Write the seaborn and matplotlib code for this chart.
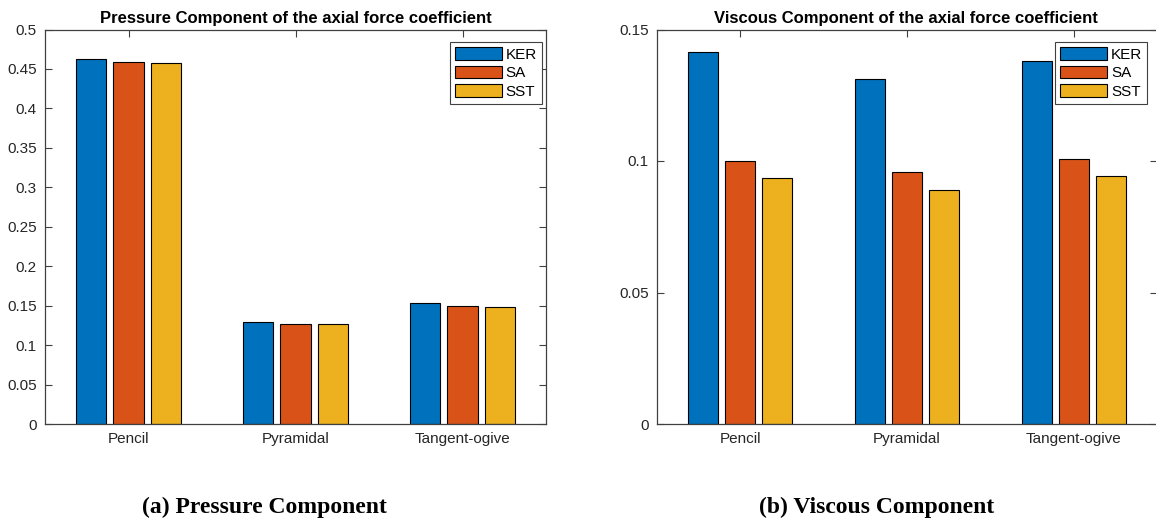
import numpy as np
import pandas as pd
import matplotlib
matplotlib.use("Agg")
import matplotlib.pyplot as plt
from matplotlib.patches import Patch
import seaborn as sns

# data
shapes = ["Pencil", "Pyramidal", "Tangent-ogive"]
models = ["KER", "SA", "SST"]
pressure_ker = [0.463, 0.1287, 0.1528]
pressure_sa = [0.459, 0.1266, 0.1490]
pressure_sst = [0.458, 0.1266, 0.1486]
viscous_ker = [0.1414, 0.1311, 0.1379]
viscous_sa = [0.1000, 0.0960, 0.1008]
viscous_sst = [0.0935, 0.0891, 0.0942]

pressure_ticks = [0, 0.05, 0.1, 0.15, 0.2, 0.25, 0.3, 0.35, 0.4, 0.45, 0.5]
pressure_ticklabels = ["0", "0.05", "0.1", "0.15", "0.2", "0.25", "0.3", "0.35", "0.4", "0.45", "0.5"]
viscous_ticks = [0, 0.05, 0.1, 0.15]
viscous_ticklabels = ["0", "0.05", "0.1", "0.15"]

titles = ["Pressure Component of the axial force coefficient",
          "Viscous Component of the axial force coefficient"]
captions = ["(a) Pressure Component", "(b) Viscous Component"]

colors = ["#0072BD", "#D95319", "#EDB120"]
axis_grey = "#404040"


def long_frame(ker, sa, sst):
    rows = []
    for model, vals in zip(models, [ker, sa, sst]):
        for shape, v in zip(shapes, vals):
            rows.append({"shape": shape, "model": model, "value": v})
    return pd.DataFrame(rows)


sns.set_style("ticks")
plt.rcParams["font.family"] = ["Liberation Sans", "DejaVu Sans"]

fig = plt.figure(figsize=(11.56, 5.23), dpi=100)
ax_p = fig.add_axes([45 / 1156, 99 / 523, 501 / 1156, 394.5 / 523])
ax_v = fig.add_axes([657 / 1156, 99 / 523, 500 / 1156, 394.5 / 523])

panels = [
    (ax_p, long_frame(pressure_ker, pressure_sa, pressure_sst), pressure_ticks,
     pressure_ticklabels, 0.5, 0.992, 0.5),
    (ax_v, long_frame(viscous_ker, viscous_sa, viscous_sst), viscous_ticks,
     viscous_ticklabels, 0.15, 0.980, 0.498),
]

for i, (ax, df, yt, ytl, ymax, leg_x, title_x) in enumerate(panels):
    sns.barplot(data=df, x="shape", y="value", hue="model", palette=colors,
                saturation=1, width=0.667, gap=0.19, errorbar=None,
                edgecolor="black", linewidth=0.8, legend=False, ax=ax)
    ax.set_xlim(-0.5, 2.5)
    ax.set_ylim(0, ymax)
    ax.set_yticks(yt)
    ax.set_yticklabels(ytl)
    ax.set_xlabel("")
    ax.set_ylabel("")
    ax.tick_params(direction="in", length=5, width=0.8, color=axis_grey,
                   labelcolor="#262626", labelsize=11, top=True, right=True,
                   pad=6)
    for s in ax.spines.values():
        s.set_color(axis_grey)
        s.set_linewidth(0.9)
    ax.set_title(titles[i], fontsize=12, fontweight="bold", pad=5,
                 color="black", x=title_x)
    handles = [Patch(facecolor=c, edgecolor="black", linewidth=0.8, label=m)
               for c, m in zip(colors, models)]
    leg = ax.legend(handles=handles, loc="upper right",
                    bbox_to_anchor=(leg_x, 0.968), borderaxespad=0,
                    fontsize=11, handlelength=3.1, handleheight=0.92,
                    handletextpad=0.26, labelspacing=0.25, borderpad=0.32,
                    fancybox=False, framealpha=1)
    leg.get_frame().set_edgecolor(axis_grey)
    leg.get_frame().set_linewidth(0.8)
    for t in leg.get_texts():
        t.set_color("black")

fig.text(264.5 / 1156, 16 / 523, captions[0], ha="center", va="center",
         fontsize=17, fontweight="bold", family="Liberation Serif",
         color="black")
fig.text(877 / 1156, 16 / 523, captions[1], ha="center", va="center",
         fontsize=17, fontweight="bold", family="Liberation Serif",
         color="black")

fig.savefig("out.png", dpi=100)
